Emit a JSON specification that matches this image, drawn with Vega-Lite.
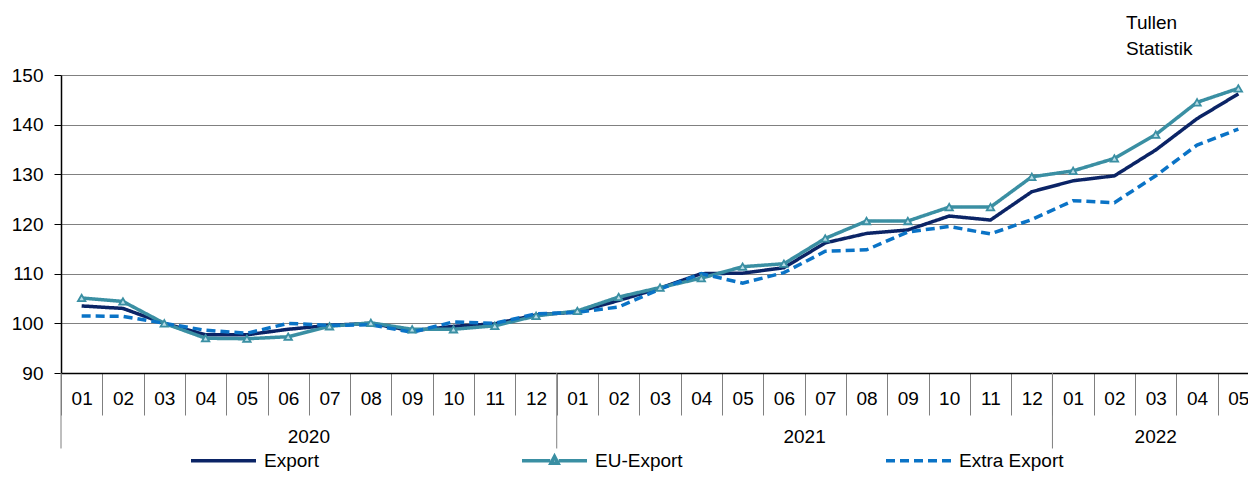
{
  "$schema": "https://vega.github.io/schema/vega-lite/v6.json",
  "autosize": {"type": "none"},
  "padding": {"left": 61, "top": 75, "right": 0, "bottom": 124},
  "width": 1187,
  "height": 298,
  "background": "white",
  "config": {
    "font": "Liberation Sans",
    "view": {"stroke": null},
    "axis": {"labelFont": "Liberation Sans", "labelColor": "#000000"},
    "legend": {"labelFont": "Liberation Sans"}
  },
  "title": {
    "text": ["Tullen", "Statistik"],
    "anchor": "start",
    "frame": "group",
    "dx": 1065,
    "offset": 7,
    "fontSize": 19,
    "fontWeight": "normal",
    "lineHeight": 26,
    "color": "#000000",
    "font": "Liberation Sans"
  },
  "datasets": {
    "lines": [
      {"ym": "2020-01", "series": "Export", "value": 103.5},
      {"ym": "2020-02", "series": "Export", "value": 103.0},
      {"ym": "2020-03", "series": "Export", "value": 100.0},
      {"ym": "2020-04", "series": "Export", "value": 97.7},
      {"ym": "2020-05", "series": "Export", "value": 97.7},
      {"ym": "2020-06", "series": "Export", "value": 98.8},
      {"ym": "2020-07", "series": "Export", "value": 99.6},
      {"ym": "2020-08", "series": "Export", "value": 100.0},
      {"ym": "2020-09", "series": "Export", "value": 98.5},
      {"ym": "2020-10", "series": "Export", "value": 99.4},
      {"ym": "2020-11", "series": "Export", "value": 99.9},
      {"ym": "2020-12", "series": "Export", "value": 101.7},
      {"ym": "2021-01", "series": "Export", "value": 102.3},
      {"ym": "2021-02", "series": "Export", "value": 104.6},
      {"ym": "2021-03", "series": "Export", "value": 107.1},
      {"ym": "2021-04", "series": "Export", "value": 110.0},
      {"ym": "2021-05", "series": "Export", "value": 110.1},
      {"ym": "2021-06", "series": "Export", "value": 111.2},
      {"ym": "2021-07", "series": "Export", "value": 116.2},
      {"ym": "2021-08", "series": "Export", "value": 118.1},
      {"ym": "2021-09", "series": "Export", "value": 118.8},
      {"ym": "2021-10", "series": "Export", "value": 121.6},
      {"ym": "2021-11", "series": "Export", "value": 120.8},
      {"ym": "2021-12", "series": "Export", "value": 126.5},
      {"ym": "2022-01", "series": "Export", "value": 128.7},
      {"ym": "2022-02", "series": "Export", "value": 129.7},
      {"ym": "2022-03", "series": "Export", "value": 134.9},
      {"ym": "2022-04", "series": "Export", "value": 141.2},
      {"ym": "2022-05", "series": "Export", "value": 146.2},
      {"ym": "2020-01", "series": "EU-Export", "value": 105.1},
      {"ym": "2020-02", "series": "EU-Export", "value": 104.4},
      {"ym": "2020-03", "series": "EU-Export", "value": 100.0},
      {"ym": "2020-04", "series": "EU-Export", "value": 97.0},
      {"ym": "2020-05", "series": "EU-Export", "value": 96.9},
      {"ym": "2020-06", "series": "EU-Export", "value": 97.3},
      {"ym": "2020-07", "series": "EU-Export", "value": 99.4},
      {"ym": "2020-08", "series": "EU-Export", "value": 100.1},
      {"ym": "2020-09", "series": "EU-Export", "value": 98.8},
      {"ym": "2020-10", "series": "EU-Export", "value": 98.8},
      {"ym": "2020-11", "series": "EU-Export", "value": 99.5},
      {"ym": "2020-12", "series": "EU-Export", "value": 101.5},
      {"ym": "2021-01", "series": "EU-Export", "value": 102.5},
      {"ym": "2021-02", "series": "EU-Export", "value": 105.3},
      {"ym": "2021-03", "series": "EU-Export", "value": 107.2},
      {"ym": "2021-04", "series": "EU-Export", "value": 109.1},
      {"ym": "2021-05", "series": "EU-Export", "value": 111.4},
      {"ym": "2021-06", "series": "EU-Export", "value": 112.0},
      {"ym": "2021-07", "series": "EU-Export", "value": 117.1},
      {"ym": "2021-08", "series": "EU-Export", "value": 120.6},
      {"ym": "2021-09", "series": "EU-Export", "value": 120.6},
      {"ym": "2021-10", "series": "EU-Export", "value": 123.4},
      {"ym": "2021-11", "series": "EU-Export", "value": 123.4},
      {"ym": "2021-12", "series": "EU-Export", "value": 129.5},
      {"ym": "2022-01", "series": "EU-Export", "value": 130.7},
      {"ym": "2022-02", "series": "EU-Export", "value": 133.2},
      {"ym": "2022-03", "series": "EU-Export", "value": 138.0},
      {"ym": "2022-04", "series": "EU-Export", "value": 144.5},
      {"ym": "2022-05", "series": "EU-Export", "value": 147.3},
      {"ym": "2020-01", "series": "Extra Export", "value": 101.5},
      {"ym": "2020-02", "series": "Extra Export", "value": 101.4},
      {"ym": "2020-03", "series": "Extra Export", "value": 100.0},
      {"ym": "2020-04", "series": "Extra Export", "value": 98.6},
      {"ym": "2020-05", "series": "Extra Export", "value": 98.0},
      {"ym": "2020-06", "series": "Extra Export", "value": 100.0},
      {"ym": "2020-07", "series": "Extra Export", "value": 99.6},
      {"ym": "2020-08", "series": "Extra Export", "value": 99.7},
      {"ym": "2020-09", "series": "Extra Export", "value": 98.2},
      {"ym": "2020-10", "series": "Extra Export", "value": 100.3},
      {"ym": "2020-11", "series": "Extra Export", "value": 100.0},
      {"ym": "2020-12", "series": "Extra Export", "value": 101.9},
      {"ym": "2021-01", "series": "Extra Export", "value": 102.2},
      {"ym": "2021-02", "series": "Extra Export", "value": 103.3},
      {"ym": "2021-03", "series": "Extra Export", "value": 106.9},
      {"ym": "2021-04", "series": "Extra Export", "value": 110.0},
      {"ym": "2021-05", "series": "Extra Export", "value": 108.1},
      {"ym": "2021-06", "series": "Extra Export", "value": 110.2},
      {"ym": "2021-07", "series": "Extra Export", "value": 114.5},
      {"ym": "2021-08", "series": "Extra Export", "value": 114.8},
      {"ym": "2021-09", "series": "Extra Export", "value": 118.4},
      {"ym": "2021-10", "series": "Extra Export", "value": 119.5},
      {"ym": "2021-11", "series": "Extra Export", "value": 118.0},
      {"ym": "2021-12", "series": "Extra Export", "value": 120.9},
      {"ym": "2022-01", "series": "Extra Export", "value": 124.7},
      {"ym": "2022-02", "series": "Extra Export", "value": 124.3},
      {"ym": "2022-03", "series": "Extra Export", "value": 129.7},
      {"ym": "2022-04", "series": "Extra Export", "value": 135.9},
      {"ym": "2022-05", "series": "Extra Export", "value": 139.1}
    ]
  },
  "layer": [
    {
      "data": {"name": "lines"},
      "mark": {"type": "line", "strokeWidth": 3.5, "strokeCap": "butt", "strokeJoin": "miter"},
      "encoding": {
        "x": {
          "field": "ym",
          "type": "ordinal",
          "sort": "ascending",
          "scale": {"type": "band", "paddingInner": 0, "paddingOuter": 0, "range": [0, 1198]},
          "axis": {
            "title": null,
            "labelExpr": "isValid(datum.value) ? substring(datum.value, 5) : ''",
            "labelAngle": 0,
            "labelFontSize": 19,
            "labelPadding": -26,
            "tickBand": "extent",
            "tickSize": 42,
            "tickColor": "#7f7f7f",
            "tickWidth": 1,
            "domainColor": "#000000",
            "domainWidth": 1.5,
            "grid": false,
            "labelOverlap": false
          }
        },
        "y": {
          "field": "value",
          "type": "quantitative",
          "scale": {"domain": [90, 150], "zero": false, "nice": false},
          "axis": {
            "title": null,
            "values": [90, 100, 110, 120, 130, 140, 150],
            "labelFontSize": 19,
            "labelPadding": 11,
            "tickSize": 7,
            "tickColor": "#000000",
            "domainColor": "#000000",
            "domainWidth": 1.5,
            "grid": true,
            "gridColor": "#808080",
            "gridWidth": 1
          }
        },
        "color": {
          "field": "series",
          "type": "nominal",
          "scale": {
            "domain": ["Export", "EU-Export", "Extra Export"],
            "range": ["#0b2466", "#3a8fa3", "#0a73c6"]
          },
          "legend": {
            "title": null,
            "orient": "none",
            "legendX": 128,
            "legendY": 351,
            "direction": "horizontal",
            "columns": 3,
            "columnPadding": 196,
            "symbolType": "stroke",
            "symbolSize": 4225,
            "symbolStrokeWidth": 3.5,
            "labelFontSize": 19,
            "labelColor": "#000000",
            "labelOffset": 6,
            "labelLimit": 300,
            "encode": {
              "symbols": {
                "update": {
                  "shape": {"signal": "datum.label === 'EU-Export' ? 'M-1,0H-0.13M0.13,0H1M0,-0.13L0.11,0.08L-0.11,0.08Z' : 'stroke'"},
                  "fill": {"signal": "datum.label === 'EU-Export' ? '#b9dce6' : 'transparent'"}
                }
              }
            }
          }
        },
        "strokeDash": {
          "field": "series",
          "type": "nominal",
          "scale": {
            "domain": ["Export", "EU-Export", "Extra Export"],
            "range": [[1, 0], [1, 0], [9, 5]]
          },
          "legend": null
        }
      }
    },
    {
      "data": {"name": "lines"},
      "transform": [{"filter": "datum.series === 'EU-Export'"}],
      "mark": {"type": "point", "shape": "triangle-up", "filled": true, "fill": "#b9dce6", "stroke": "#3a8fa3", "strokeWidth": 1.8, "size": 55, "opacity": 1},
      "encoding": {
        "x": {"field": "ym", "type": "ordinal"},
        "y": {"field": "value", "type": "quantitative"}
      }
    },
    {
      "data": {"values": [{"ym": "2020-01"}, {"ym": "2021-01"}, {"ym": "2022-01"}]},
      "mark": {"type": "rule", "color": "#7f7f7f", "strokeWidth": 1, "clip": false},
      "encoding": {
        "x": {"field": "ym", "type": "ordinal", "bandPosition": 0},
        "y": {"datum": 90},
        "y2": {"datum": 74.8}
      }
    },
    {
      "data": {"values": [{"ym": "2020-07", "year": "2020"}, {"ym": "2021-07", "year": "2021"}]},
      "mark": {"type": "text", "fontSize": 19, "color": "#000000", "baseline": "middle", "align": "center", "font": "Liberation Sans"},
      "encoding": {
        "x": {"field": "ym", "type": "ordinal", "bandPosition": 0},
        "y": {"datum": 77.1},
        "text": {"field": "year"}
      }
    },
    {
      "data": {"values": [{"ym": "2022-03", "year": "2022"}]},
      "mark": {"type": "text", "fontSize": 19, "color": "#000000", "baseline": "middle", "align": "center", "font": "Liberation Sans"},
      "encoding": {
        "x": {"field": "ym", "type": "ordinal", "bandPosition": 0.5},
        "y": {"datum": 77.1},
        "text": {"field": "year"}
      }
    }
  ]
}
